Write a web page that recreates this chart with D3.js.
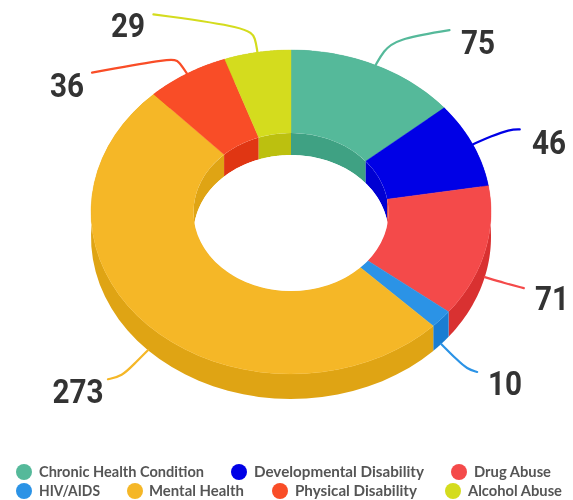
<!DOCTYPE html>
<html><head><meta charset="utf-8">
<script src="https://cdn.jsdelivr.net/npm/d3@7"></script>
<style>html,body{margin:0;padding:0;background:#fff}svg{display:block;filter:blur(0.4px)}</style>
</head><body><svg id="c" width="573" height="500"></svg>
<script>
const categories=["Chronic Health Condition","Developmental Disability","Drug Abuse","HIV/AIDS","Mental Health","Physical Disability","Alcohol Abuse"];
const values=[75,46,71,10,273,36,29];
const faceColors=["#55b99a","#0000e6","#f44a4a","#2b93e6","#f5b727","#f94d27","#d4dc1e"];
const wallColors=["#3fa183","#0000d2","#d93131","#1a7dd2","#dfa414","#e03613","#bcc00f"];

// layout, separate from the data
const outer={cx:291,cy:212,rx:200,ry:162,depth:25};
const inner={cx:291,cy:212,rx:97.5,ry:79,depth:22};
const leaders=[ // offsets from the slice's anchor on the rim
 {o:[[8,-14],[20,-26],[74,-35]],t:[478,42]},
 {o:[[18,-8],[37,-15],[47,-15]],t:[549,142]},
 {o:[[20,6],[39,11]],t:[552,298]},
 {o:[[16,16],[26,25],[36,28]],t:[505,383]},
 {o:[[-14,14],[-26,26],[-40,29]],t:[78,391]},
 {o:[[-8,-12],[-14,-16],[-95,-1]],t:[67,85]},
 {o:[[-2,-14],[-8,-25],[-104,-38]],t:[128,25]}
];
const legendPos=[[24,472,39,165],[239,472,254,170],[459,472,474,77],[24,491,39,61],[135,491,149,95],[280,491,295,122],[453,491,468,94]];

const svg=d3.select("#c");
const pie=d3.pie().value(d=>d).sort(null);
const arcs=pie(values);
const pt=(e,a,dy=0)=>[e.cx+e.rx*Math.sin(a),e.cy-e.ry*Math.cos(a)+dy];
const sample=(e,a0,a1,dy=0)=>d3.range(0,41).map(i=>pt(e,a0+(a1-a0)*i/40,dy));
const line=d3.line();

svg.append("clipPath").attr("id","hole").append("ellipse")
  .attr("cx",inner.cx).attr("cy",inner.cy).attr("rx",inner.rx).attr("ry",inner.ry);

// outer walls
svg.append("g").selectAll("path").data(arcs).join("path")
  .attr("fill",(d,i)=>wallColors[i])
  .attr("d",d=>{
    const a=sample(outer,d.startAngle,d.endAngle),b=sample(outer,d.endAngle,d.startAngle,outer.depth);
    return line(a.concat(b))+"Z";
  });
// faces
svg.append("g").selectAll("path").data(arcs).join("path")
  .attr("fill",(d,i)=>faceColors[i]).attr("stroke",(d,i)=>faceColors[i]).attr("stroke-width",0.4)
  .attr("d",d=>line(sample(outer,d.startAngle,d.endAngle).concat(sample(inner,d.endAngle,d.startAngle)))+"Z");
// inner walls, seen through the opening
const holeG=svg.append("g").attr("clip-path","url(#hole)");
holeG.selectAll("path").data(arcs).join("path")
  .attr("fill",(d,i)=>wallColors[i])
  .attr("d",d=>line(sample(inner,d.startAngle,d.endAngle).concat(sample(inner,d.endAngle,d.startAngle,inner.depth)))+"Z");
// the opening itself: the hole's rim dropped by the wall depth
holeG.append("ellipse").attr("cx",inner.cx).attr("cy",inner.cy+inner.depth).attr("rx",inner.rx).attr("ry",inner.ry).attr("fill","#fff");

// leaders
const curve=d3.line().curve(d3.curveBasis);
svg.append("g").selectAll("path").data(arcs).join("path")
  .attr("fill","none").attr("stroke",(d,i)=>faceColors[i]).attr("stroke-width",2.2).attr("stroke-linecap","round")
  .attr("d",(d,i)=>{
    const mid=(d.startAngle+d.endAngle)/2;
    const lower=Math.cos(mid)<0;
    const s=pt(outer,mid,lower?outer.depth:0);
    const pts=[s,s].concat(leaders[i].o.map(o=>[s[0]+o[0],s[1]+o[1]]));
    const e=pts[pts.length-1];
    return curve(pts.concat([e]));
  });
// value labels
svg.append("g").selectAll("text").data(values).join("text")
  .attr("transform",(d,i)=>`translate(${leaders[i].t[0]},${leaders[i].t[1]}) scale(0.9,1)`)
  .attr("text-anchor","middle").attr("dy","0.36em")
  .attr("font-family","Roboto").attr("font-weight",700).attr("font-size",33).attr("fill","#333")
  .text(d=>d);
// legend
const leg=svg.append("g").selectAll("g").data(categories).join("g");
leg.append("circle").attr("cx",(d,i)=>legendPos[i][0]).attr("cy",(d,i)=>legendPos[i][1]).attr("r",8).attr("fill",(d,i)=>faceColors[i]);
leg.append("text").attr("x",(d,i)=>legendPos[i][2]).attr("y",(d,i)=>legendPos[i][1]).attr("dy","0.35em")
  .attr("textLength",(d,i)=>legendPos[i][3]).attr("lengthAdjust","spacingAndGlyphs")
  .attr("font-family","Lato").attr("font-weight",700).attr("font-size",15).attr("fill","#555")
  .text(d=>d);
</script></body></html>
